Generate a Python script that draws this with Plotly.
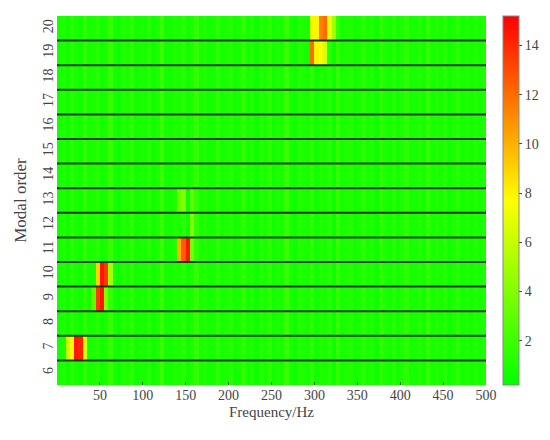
import numpy as np
import plotly.graph_objects as go

# modal orders (rows) and 5 Hz frequency bins (columns)
orders = list(range(6, 21))
freq_bins = np.arange(2.5, 500, 5)

# low-level background amplitude per 5 Hz bin
background = [
    0.8, 1.1, 0.6, 1.4, 0.9, 0.7, 1.6, 0.8, 1.0, 1.3,
    0.7, 0.9, 1.8, 0.8, 0.6, 1.2, 0.9, 1.5, 0.7, 1.0,
    0.8, 1.3, 0.6, 1.0, 1.9, 0.8, 0.7, 1.1, 0.9, 1.4,
    0.6, 1.0, 1.7, 0.8, 1.2, 0.7, 0.9, 1.5, 0.8, 1.0,
    1.3, 0.7, 0.9, 1.6, 0.8, 1.1, 0.6, 1.2, 0.9, 1.4,
    0.7, 1.0, 0.8, 1.8, 0.9, 0.6, 1.2, 1.0, 0.8, 1.5,
    0.7, 1.1, 0.9, 1.3, 0.6, 1.7, 0.8, 1.0, 1.2, 0.7,
    0.9, 1.4, 0.8, 1.1, 0.6, 1.6, 1.0, 0.8, 1.3, 0.7,
    1.0, 1.5, 0.8, 0.9, 1.2, 0.7, 1.7, 0.9, 1.1, 0.8,
    1.3, 0.6, 1.0, 1.4, 0.8, 1.1, 0.7, 1.2, 0.9, 1.0,
]

# peaks: order -> {bin start frequency (Hz): amplitude}
peaks = {
    7: {10: 6.0, 15: 7.8, 20: 14.5, 25: 14.2, 30: 6.5},
    9: {40: 3.0, 45: 13.5, 50: 14.6, 55: 4.0},
    10: {45: 9.0, 50: 14.6, 55: 13.5, 60: 5.0},
    11: {140: 10.0, 145: 12.5, 150: 14.6, 155: 3.5},
    12: {155: 4.0},
    13: {140: 3.5, 145: 4.0, 155: 3.0},
    19: {295: 12.0, 300: 8.0, 305: 7.5, 310: 6.5},
    20: {295: 7.0, 300: 8.0, 305: 11.5, 310: 12.0, 315: 7.0, 320: 5.0},
}

cbar_ticks = [2, 4, 6, 8, 10, 12, 14]
x_ticks = [50, 100, 150, 200, 250, 300, 350, 400, 450, 500]

z = []
for o in orders:
    row = list(background)
    for f, v in peaks.get(o, {}).items():
        row[int(f // 5)] = v
    z.append(row)

font = dict(family="Liberation Serif, Times New Roman, serif", color="#444444")

fig = go.Figure(go.Heatmap(
    x=freq_bins, y=orders, z=z,
    zmin=0.2, zmax=15.2,
    colorscale=[[0, "rgb(0,255,0)"], [0.5, "rgb(255,255,0)"], [1, "rgb(255,0,0)"]],
    colorbar=dict(
        x=1.04, xanchor="left", xpad=0, y=0.5, ypad=0, len=1, thickness=16,
        tickvals=cbar_ticks, ticks="outside", ticklen=3,
        tickfont=dict(size=14, **font),
        outlinewidth=1, outlinecolor="#888888",
    ),
))

# dark separators between the modal-order rows
for o in orders[:-1]:
    fig.add_shape(type="line", xref="x", yref="y",
                  x0=0, x1=500, y0=o + 0.5, y1=o + 0.5,
                  line=dict(color="#153a10", width=2))

# the page body adds 8px around the figure, so the figure is 542x432
fig.update_layout(
    width=542, height=432,
    margin=dict(l=49, r=64, t=8, b=55),
    paper_bgcolor="white", plot_bgcolor="white",
    font=font,
    xaxis=dict(
        range=[0, 500], tickvals=x_ticks, ticks="inside", ticklen=3,
        tickcolor="#2a5a20", mirror=True, showgrid=False, zeroline=False,
        tickfont=dict(size=14),
        title=dict(text="Frequency/Hz", font=dict(size=15), standoff=4),
    ),
    yaxis=dict(
        range=[5.5, 20.5], tickvals=orders, tickangle=-90, ticks="",
        showgrid=False, zeroline=False, tickfont=dict(size=14),
        title=dict(text="Modal order", font=dict(size=17), standoff=10),
    ),
)

fig.write_html("out.html")
